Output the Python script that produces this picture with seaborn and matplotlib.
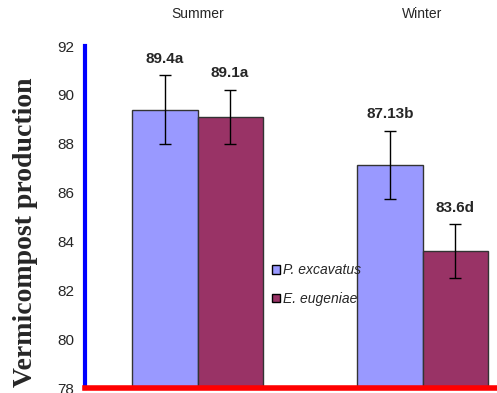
import matplotlib
matplotlib.use("Agg")
import matplotlib.pyplot as plt
import seaborn as sns
import pandas as pd
import numpy as np

seasons = ["Summer", "Winter"]
species = ["P. excavatus", "E. eugeniae"]
pe_values = [89.4, 87.13]
ee_values = [89.1, 83.6]
pe_err = [1.4, 1.4]
ee_err = [1.1, 1.1]
pe_labels = ["89.4a", "87.13b"]
ee_labels = ["89.1a", "83.6d"]
yticks = [78, 80, 82, 84, 86, 88, 90, 92]

sns.set_theme(style="white")
plt.rcParams["font.family"] = ["Liberation Sans", "DejaVu Sans"]

df = pd.DataFrame({
    "season": seasons * 2,
    "species": [species[0]] * 2 + [species[1]] * 2,
    "value": pe_values + ee_values,
})
errs = {species[0]: pe_err, species[1]: ee_err}
labels = {species[0]: pe_labels, species[1]: ee_labels}

fig = plt.figure(figsize=(4.97, 3.93), dpi=100)
ax = fig.add_axes([85 / 497, 5 / 393, 450 / 497, 342 / 393])

sns.barplot(data=df, x="season", y="value", hue="species", order=seasons,
            hue_order=species, palette=["#9999FF", "#993366"], width=0.578,
            edgecolor="#333333", linewidth=1.0, errorbar=None, ax=ax,
            saturation=1)

ax.set_ylim(78, 92)
ax.set_xlim(-0.5, 1.5)
ax.set_yticks(yticks)
ax.set_yticklabels([str(t) for t in yticks], fontsize=11)

# error bars and value labels from the drawn bars
for cont, sp in zip(ax.containers, species):
    for bar, v, e, lab in zip(cont.patches, df[df.species == sp]["value"],
                              errs[sp], labels[sp]):
        cx = bar.get_x() + bar.get_width() / 2
        ax.errorbar(cx, v, yerr=e, fmt="none", ecolor="black", elinewidth=1,
                    capsize=4, capthick=1)
        ax.text(cx, v + e + 0.4, lab, ha="center", va="bottom",
                fontsize=11, fontweight="bold")

ax.xaxis.tick_top()
ax.tick_params(axis="x", length=0, pad=18, labelsize=10)
ax.set_xlabel("")
ax.set_ylabel("Vermicompost production", fontsize=20, fontweight="bold",
              family=["Liberation Serif", "DejaVu Serif"])
ax.yaxis.set_label_coords(-0.104, 0.455)

for side in ["top", "right"]:
    ax.spines[side].set_visible(False)
ax.spines["left"].set_color("blue")
ax.spines["left"].set_linewidth(3)
ax.spines["bottom"].set_color("red")
ax.spines["bottom"].set_linewidth(4)
ax.tick_params(axis="y", direction="in", length=3, width=2, color="blue", pad=8)

leg = ax.legend(loc="upper left", bbox_to_anchor=(0.4, 0.385), frameon=False,
                fontsize=10, handlelength=0.6, handleheight=0.6,
                handletextpad=0.2, labelspacing=1.05, borderpad=0)
for t in leg.get_texts():
    t.set_fontstyle("italic")
for h in leg.legend_handles:
    h.set_edgecolor("black")
    h.set_linewidth(1)

fig.savefig("out.png", dpi=100)
